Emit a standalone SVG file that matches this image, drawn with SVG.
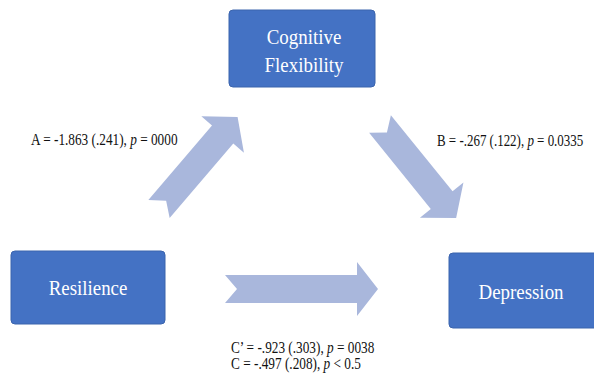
<svg xmlns="http://www.w3.org/2000/svg" width="594" height="381" viewBox="0 0 594 381">
<style>
.box{fill:#4472c4;stroke:#3b64ad;stroke-width:1}
.bt{font-family:'Liberation Serif','Times New Roman','DejaVu Serif',serif;font-size:22px;fill:#ffffff;text-anchor:middle}
.lbl{font-family:'Liberation Serif','Times New Roman','DejaVu Serif',serif;font-size:16px;fill:#111111}
.arr{fill:#a9b7dc}
</style>
<defs>
<path id="ar" d="M0,-14 L98,-14 L98,-28 L121,0 L98,28 L98,14 L0,14 L11,0 Z"/>
</defs>
<rect width="594" height="381" fill="#ffffff"/>
<g id="connectors">
<use href="#ar" class="arr" transform="translate(159,209) rotate(-49.5)"/>
<use href="#ar" class="arr" transform="translate(380,124) rotate(51)"/>
<path class="arr" d="M225,275 L357,275 L357,262 L378,289 L357,316 L357,303 L225,303 L237,289 Z"/>
</g>
<g id="cognitive">
<rect class="box" x="229" y="10" width="146" height="77" rx="4"/>
<text class="bt" transform="translate(304,44) scale(0.86,1)">Cognitive</text>
<text class="bt" transform="translate(304,72) scale(0.86,1)">Flexibility</text>
</g>
<g id="resilience">
<rect class="box" x="11" y="251" width="154" height="73" rx="4"/>
<text class="bt" transform="translate(88,295) scale(0.86,1)">Resilience</text>
</g>
<g id="depression">
<rect class="box" x="449" y="253" width="150" height="75" rx="4"/>
<text class="bt" transform="translate(521,299) scale(0.86,1)">Depression</text>
</g>
<g id="labels">
<text class="lbl" transform="translate(31,145) scale(0.83,1)">A = -1.863 (.241), <tspan font-style="italic">p</tspan> = 0000</text>
<text class="lbl" transform="translate(437,146) scale(0.81,1)">B = -.267 (.122), <tspan font-style="italic">p</tspan> = 0.0335</text>
<text class="lbl" transform="translate(231,353) scale(0.83,1)">C’ = -.923 (.303), <tspan font-style="italic">p</tspan> = 0038</text>
<text class="lbl" transform="translate(231,369) scale(0.83,1)">C = -.497 (.208), <tspan font-style="italic">p</tspan> &lt; 0.5</text>
</g>
</svg>
